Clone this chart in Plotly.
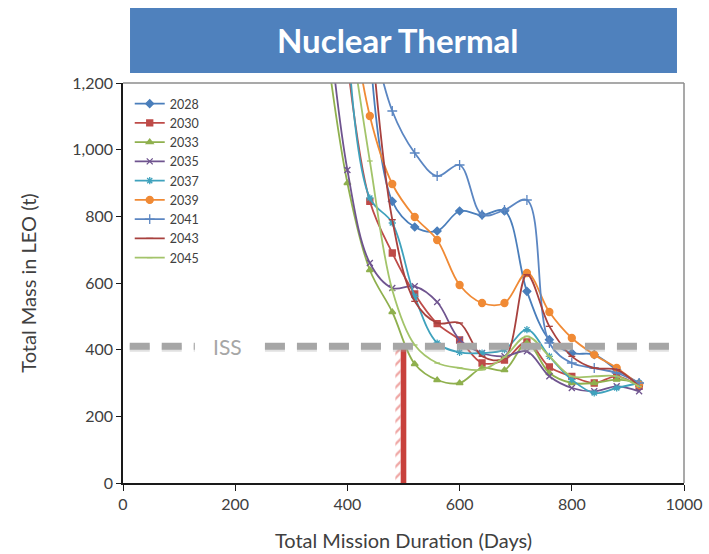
import plotly.graph_objects as go

# Mission duration grid (days)
days = [360, 400, 440, 480, 520, 560, 600, 640, 680, 720, 760, 800, 840, 880, 920]

# Total mass in LEO (t) per departure year
y2028 = [None, None, 1303, 845, 768, 756, 816, 804, 816, 575, 430, 390, 385, 340, 300]
y2030 = [None, 1262, 845, 690, 567, 478, 429, 360, 369, 423, 348, 320, 300, 320, 290]
y2033 = [1344, 900, 639, 513, 357, 309, 300, 345, 339, 420, 330, 300, 300, 310, 300]
y2035 = [1489, 939, 660, 585, 590, 543, 430, 390, 380, 395, 320, 285, 275, 290, 275]
y2037 = [None, 1348, 855, 780, 560, 420, 392, 390, 400, 460, 380, 310, 270, 285, 300]
y2039 = [None, 1496, 1101, 897, 798, 729, 594, 540, 540, 630, 513, 435, 385, 345, 295]
y2041 = [None, None, 1375, 1116, 990, 921, 954, 805, 819, 849, 420, 360, 345, 330, 300]
y2043 = [None, None, 1397, 790, 545, 480, 480, 380, 375, 625, 470, 380, 345, 340, 290]
y2045 = [None, 1411, 966, 579, 414, 360, 345, 340, 378, 440, 380, 320, 320, 320, 290]

years = ["2028", "2030", "2033", "2035", "2037", "2039", "2041", "2043", "2045"]
values = [y2028, y2030, y2033, y2035, y2037, y2039, y2041, y2043, y2045]
colors = ["#4A7EBB", "#BE4B48", "#8FB04E", "#6F548F", "#3FA2BD",
          "#F08A35", "#5B86C2", "#A8413E", "#A3C46A"]
symbols = ["diamond", "square", "triangle-up", "x-thin-open", "asterisk-open",
           "circle", "cross-thin-open", "line-ew-open", "line-ew-open"]
msizes = [6, 6, 6, 6, 6, 7, 7, 5, 4]

# ISS mass reference and the 500-day mission marker
iss_mass = 410
mission_days = 500

fig = go.Figure()

for yr, vals, col, sym, ms in zip(years, values, colors, symbols, msizes):
    fig.add_trace(go.Scatter(
        x=days, y=vals, name=yr, mode="lines+markers",
        line=dict(color=col, width=1.8, shape="spline", smoothing=1),
        marker=dict(symbol=sym, size=ms, color=col,
                    line=dict(color=col, width=1.3)),
        connectgaps=False,
    ))

# hatched strip and solid bar at the 500-day point, up to the ISS line
fig.add_trace(go.Bar(
    x=[mission_days - 10], y=[iss_mass], width=9, showlegend=False,
    marker=dict(color="rgba(0,0,0,0)", line=dict(width=0),
                pattern=dict(shape="/", fgcolor="#E0504B", bgcolor="rgba(0,0,0,0)",
                             size=8, solidity=0.3, fillmode="overlay")),
    hoverinfo="skip",
))
fig.add_trace(go.Bar(
    x=[mission_days], y=[iss_mass], width=10, showlegend=False,
    marker=dict(color="#C8413C", line=dict(width=0)),
    hoverinfo="skip",
))

# ISS dashed reference line (split around its label)
for x0, x1 in [(12, 128), (253, 993)]:
    fig.add_shape(type="line", xref="x", yref="y", x0=x0, x1=x1,
                  y0=iss_mass - 6, y1=iss_mass - 6,
                  line=dict(color="rgba(170,170,170,0.35)", width=7, dash="20px,12px"),
                  layer="above")
    fig.add_shape(type="line", xref="x", yref="y", x0=x0, x1=x1,
                  y0=iss_mass, y1=iss_mass,
                  line=dict(color="#A6A6A6", width=7, dash="20px,12px"),
                  layer="above")
fig.add_annotation(x=187, y=iss_mass, xref="x", yref="y", text="ISS",
                   showarrow=False, font=dict(family="Lato", size=21, color="#A6A6A6"))

# grey frame on top and right of the plot area
fig.add_shape(type="line", xref="paper", yref="paper", x0=0, x1=1, y0=1, y1=1,
              line=dict(color="#8C8C8C", width=1.5))
fig.add_shape(type="line", xref="paper", yref="paper", x0=1, x1=1, y0=0, y1=1,
              line=dict(color="#8C8C8C", width=1.5))

# title banner
fig.add_shape(type="rect", xref="paper", yref="paper", x0=0.0125, x1=0.9875,
              y0=1.025, y1=1.1875, fillcolor="#4F81BD", line=dict(width=0))
fig.add_annotation(x=0.49, y=1.108, xref="paper", yref="paper", text="<b>Nuclear Thermal</b>",
                   xanchor="center", yanchor="middle",
                   showarrow=False, font=dict(family="Lato", size=33, color="white"))

fig.update_layout(
    width=709, height=554,
    margin=dict(l=123, r=25, t=83, b=71, autoexpand=False),
    paper_bgcolor="white", plot_bgcolor="white",
    barmode="overlay",
    font=dict(family="Lato", color="#404040"),
    showlegend=True,
    legend=dict(x=0.012, y=0.985, xanchor="left", yanchor="top",
                bgcolor="rgba(0,0,0,0)", font=dict(size=12.5, color="#404040"),
                tracegroupgap=0, itemwidth=30),
    xaxis=dict(range=[0, 1000], dtick=200, showgrid=False, zeroline=False,
               automargin=False,
               showline=True, linecolor="#1a1a1a", linewidth=1.5,
               ticks="outside", ticklen=6, tickcolor="#1a1a1a",
               tickfont=dict(size=16, color="#404040"),
               title=dict(text="Total Mission Duration (Days)", standoff=22,
                          font=dict(size=20, color="#404040"))),
    yaxis=dict(range=[0, 1200], dtick=200, tickformat=",", showgrid=False, zeroline=False,
               automargin=False,
               showline=True, linecolor="#1a1a1a", linewidth=1.5,
               ticks="outside", ticklen=5, tickcolor="#1a1a1a",
               tickfont=dict(size=16, color="#404040"),
               title=dict(text="Total Mass in LEO (t)", standoff=30,
                          font=dict(size=20, color="#404040"))),
)

fig.write_html("out.html")
